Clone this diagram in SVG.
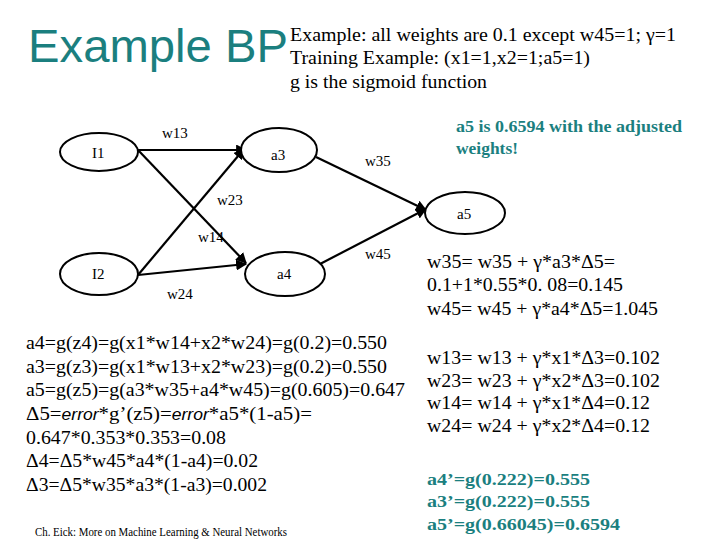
<svg xmlns="http://www.w3.org/2000/svg" width="720" height="540" viewBox="0 0 720 540">
<style>
.t{font-family:"Liberation Serif","Times New Roman",serif;fill:#000}
.f{font-size:19px}
.n{font-size:15px}
.g{font-family:"Liberation Serif","Times New Roman",serif;fill:#1b7f7f;font-weight:bold;font-size:16px}
.i{font-family:"Liberation Sans",Arial,sans-serif;font-style:italic}
ellipse{fill:#fff;stroke:#000;stroke-width:2}
.c line{stroke:#000;stroke-width:2.2;marker-end:url(#ah)}
</style>
<defs>
<marker id="ah" viewBox="0 0 10 10" refX="9" refY="5" markerWidth="5" markerHeight="5" orient="auto" markerUnits="strokeWidth">
<path d="M0,0 L10,5 L0,10 z" fill="#000"/>
</marker>
</defs>
<rect width="720" height="540" fill="#fff"/>
<text x="28" y="62" font-family="'Liberation Sans',Arial,sans-serif" font-size="47" fill="#1b7f7f" textLength="260" lengthAdjust="spacingAndGlyphs">Example BP</text>
<g class="t" font-size="18">
<text x="290" y="41" textLength="386" lengthAdjust="spacingAndGlyphs">Example: all weights are 0.1 except w45=1; γ=1</text>
<text x="290" y="64" textLength="300" lengthAdjust="spacingAndGlyphs">Training Example: (x1=1,x2=1;a5=1)</text>
<text x="290" y="88" textLength="197" lengthAdjust="spacingAndGlyphs">g is the sigmoid function</text>
</g>
<text class="g" x="456" y="132" textLength="226" lengthAdjust="spacingAndGlyphs">a5 is 0.6594 with the adjusted</text>
<text class="g" x="456" y="154" textLength="62" lengthAdjust="spacingAndGlyphs">weights!</text>
<g class="c" id="connectors">
<line x1="138" y1="150" x2="246" y2="150"/>
<line x1="138" y1="150" x2="246" y2="263"/>
<line x1="138" y1="275" x2="244" y2="149"/>
<line x1="138" y1="275" x2="246" y2="264"/>
<line x1="316" y1="157" x2="426" y2="210"/>
<line x1="320" y1="264" x2="426" y2="209"/>
</g>
<g id="I1"><ellipse cx="99" cy="152" rx="39" ry="19"/><text class="t n" x="92" y="158">I1</text></g>
<g id="I2"><ellipse cx="99" cy="274" rx="39" ry="21"/><text class="t n" x="92" y="279">I2</text></g>
<g id="a3"><ellipse cx="279" cy="150" rx="38" ry="22"/><text class="t n" x="271" y="160">a3</text></g>
<g id="a4"><ellipse cx="285" cy="274" rx="40" ry="22"/><text class="t n" x="277" y="279">a4</text></g>
<g id="a5"><ellipse cx="465" cy="213" rx="40" ry="21"/><text class="t n" x="457" y="219">a5</text></g>
<g class="t n">
<text x="162" y="138">w13</text>
<text x="217" y="205">w23</text>
<text x="198" y="242">w14</text>
<text x="167" y="299">w24</text>
<text x="365" y="166">w35</text>
<text x="365" y="259">w45</text>
</g>
<g class="t f">
<text x="26" y="349" textLength="361" lengthAdjust="spacingAndGlyphs">a4=g(z4)=g(x1*w14+x2*w24)=g(0.2)=0.550</text>
<text x="26" y="373" textLength="361" lengthAdjust="spacingAndGlyphs">a3=g(z3)=g(x1*w13+x2*w23)=g(0.2)=0.550</text>
<text x="26" y="396" textLength="379" lengthAdjust="spacingAndGlyphs">a5=g(z5)=g(a3*w35+a4*w45)=g(0.605)=0.647</text>
<text x="26" y="420" textLength="286" lengthAdjust="spacingAndGlyphs">Δ5=<tspan class="i" font-size="16">error</tspan>*g’(z5)=<tspan class="i" font-size="16">error</tspan>*a5*(1-a5)=</text>
<text x="26" y="444" textLength="200" lengthAdjust="spacingAndGlyphs">0.647*0.353*0.353=0.08</text>
<text x="26" y="467" textLength="232" lengthAdjust="spacingAndGlyphs">Δ4=Δ5*w45*a4*(1-a4)=0.02</text>
<text x="26" y="491" textLength="241" lengthAdjust="spacingAndGlyphs">Δ3=Δ5*w35*a3*(1-a3)=0.002</text>
<text x="427" y="268" textLength="188" lengthAdjust="spacingAndGlyphs">w35= w35 + γ*a3*Δ5=</text>
<text x="427" y="291" textLength="196" lengthAdjust="spacingAndGlyphs">0.1+1*0.55*0. 08=0.145</text>
<text x="427" y="315" textLength="231" lengthAdjust="spacingAndGlyphs">w45= w45 + γ*a4*Δ5=1.045</text>
<text x="427" y="364" textLength="233" lengthAdjust="spacingAndGlyphs">w13= w13 + γ*x1*Δ3=0.102</text>
<text x="427" y="387" textLength="233" lengthAdjust="spacingAndGlyphs">w23= w23 + γ*x2*Δ3=0.102</text>
<text x="427" y="409" textLength="223" lengthAdjust="spacingAndGlyphs">w14= w14 + γ*x1*Δ4=0.12</text>
<text x="427" y="432" textLength="223" lengthAdjust="spacingAndGlyphs">w24= w24 + γ*x2*Δ4=0.12</text>
</g>
<text class="g" x="427" y="485" textLength="163" lengthAdjust="spacingAndGlyphs">a4’=g(0.222)=0.555</text>
<text class="g" x="427" y="507" textLength="163" lengthAdjust="spacingAndGlyphs">a3’=g(0.222)=0.555</text>
<text class="g" x="427" y="530" textLength="193" lengthAdjust="spacingAndGlyphs">a5’=g(0.66045)=0.6594</text>
<text class="t" x="35" y="536" font-size="12" textLength="252" lengthAdjust="spacingAndGlyphs">Ch. Eick: More on Machine Learning  &amp; Neural Networks</text>
</svg>
